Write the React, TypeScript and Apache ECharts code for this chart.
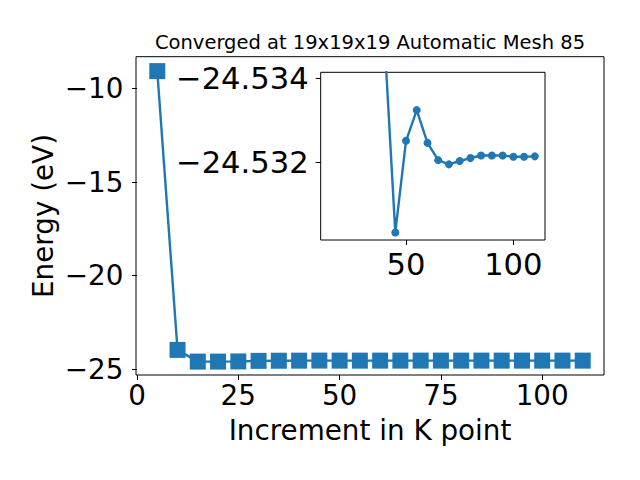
import React, { useEffect, useRef } from "react";
import * as echarts from "echarts";

const kPoints = [5, 10, 15, 20, 25, 30, 35, 40, 45, 50, 55, 60, 65, 70, 75, 80, 85, 90, 95, 100, 105, 110];
const energies = [
  -9.08, -23.96, -24.585, -24.585, -24.575, -24.545, -24.538, -24.5349,
  -24.53033, -24.53251, -24.53324, -24.53246, -24.53205, -24.53195, -24.53203,
  -24.5321, -24.53216, -24.53216, -24.53216, -24.53213, -24.53213, -24.53214,
];
const mainXTicks = [0, 25, 50, 75, 100];
const mainYTicks = [-25, -20, -15, -10];
const insetXTicks = [50, 100];
const insetYTicks = [-24.534, -24.532];
const titleText = "Converged at 19x19x19 Automatic Mesh 85";
const xLabel = "Increment in K point";
const yLabel = "Energy (eV)";

const BLUE = "#1f77b4";
const FONT = "DejaVu Sans";
const minus = (s: string) => s.replace("-", "\u2212");

export default function App() {
  const ref = useRef<HTMLDivElement>(null);
  useEffect(() => {
    if (!ref.current) return;
    const chart = echarts.init(ref.current, null, { renderer: "svg" });
    const mainData = kPoints.map((k, i) => [k, energies[i]]);
    const insetData = kPoints.map((k, i) => [k, energies[i]]).filter((d) => d[0] >= 15);
    const axisCommon = {
      axisLine: { show: false },
      splitLine: { show: false },
      axisTick: { show: true, inside: false, length: 5, lineStyle: { color: "#000", width: 1 } },
    };
    chart.setOption({
      animation: false,
      backgroundColor: "#fff",
      textStyle: { fontFamily: FONT },
      grid: [
        { left: 136, right: 36, top: 56.7, bottom: 105, show: true, borderColor: "#000", borderWidth: 1, backgroundColor: "#fff", containLabel: false },
        { left: 320.7, right: 95, top: 72.3, bottom: 240, show: true, borderColor: "#000", borderWidth: 1, backgroundColor: "#fff", containLabel: false, z: 5 },
      ],
      xAxis: [
        {
          type: "value", gridIndex: 0, min: -0.25, max: 115.25, ...axisCommon,
          axisTick: { ...axisCommon.axisTick, customValues: mainXTicks },
          axisLabel: { customValues: mainXTicks, fontSize: 27.8, color: "#000", margin: 6, fontFamily: FONT },
        },
        {
          type: "value", gridIndex: 1, min: 10.25, max: 114.75, ...axisCommon, z: 5,
          axisTick: { ...axisCommon.axisTick, customValues: insetXTicks },
          axisLabel: { customValues: insetXTicks, fontSize: 30.6, color: "#000", margin: 9, fontFamily: FONT },
        },
      ],
      yAxis: [
        {
          type: "value", gridIndex: 0, min: -25.3, max: -8.31, ...axisCommon,
          axisTick: { ...axisCommon.axisTick, customValues: mainYTicks },
          axisLabel: { customValues: mainYTicks, fontSize: 27.8, color: "#000", margin: 12.5, fontFamily: FONT, formatter: (v: number) => minus(String(v)) },
        },
        {
          type: "value", gridIndex: 1, inverse: true, min: -24.53414, max: -24.53015, ...axisCommon, z: 5,
          axisTick: { ...axisCommon.axisTick, customValues: insetYTicks },
          axisLabel: { customValues: insetYTicks, fontSize: 30.6, color: "#000", margin: 12, fontFamily: FONT, formatter: (v: number) => minus(v.toFixed(3)) },
        },
      ],
      series: [
        {
          type: "line", xAxisIndex: 0, yAxisIndex: 0, data: mainData,
          symbol: "rect", symbolSize: 16, showAllSymbol: true,
          lineStyle: { color: BLUE, width: 2.4 }, itemStyle: { color: BLUE, borderWidth: 0 },
          emphasis: { disabled: true },
        },
        {
          type: "line", xAxisIndex: 1, yAxisIndex: 1, data: insetData, z: 6,
          symbol: "circle", symbolSize: 8, showAllSymbol: true, clip: true,
          lineStyle: { color: BLUE, width: 2.4 }, itemStyle: { color: BLUE, borderWidth: 0 },
          emphasis: { disabled: true },
        },
      ],
      graphic: [
        { type: "text", x: 370, y: 42.6, style: { text: titleText, fontSize: 19.5, fontFamily: FONT, fill: "#000", textAlign: "center", textVerticalAlign: "middle" } },
        { type: "text", x: 370, y: 430.5, style: { text: xLabel, fontSize: 27.8, fontFamily: FONT, fill: "#000", textAlign: "center", textVerticalAlign: "middle" } },
        { type: "text", x: 43.5, y: 216, rotation: Math.PI / 2, style: { text: yLabel, fontSize: 27.8, fontFamily: FONT, fill: "#000", textAlign: "center", textVerticalAlign: "middle" } },
      ],
    });
    return () => chart.dispose();
  }, []);
  return <div ref={ref} style={{ position: "fixed", left: 0, top: 0, width: 640, height: 480 }} />;
}
